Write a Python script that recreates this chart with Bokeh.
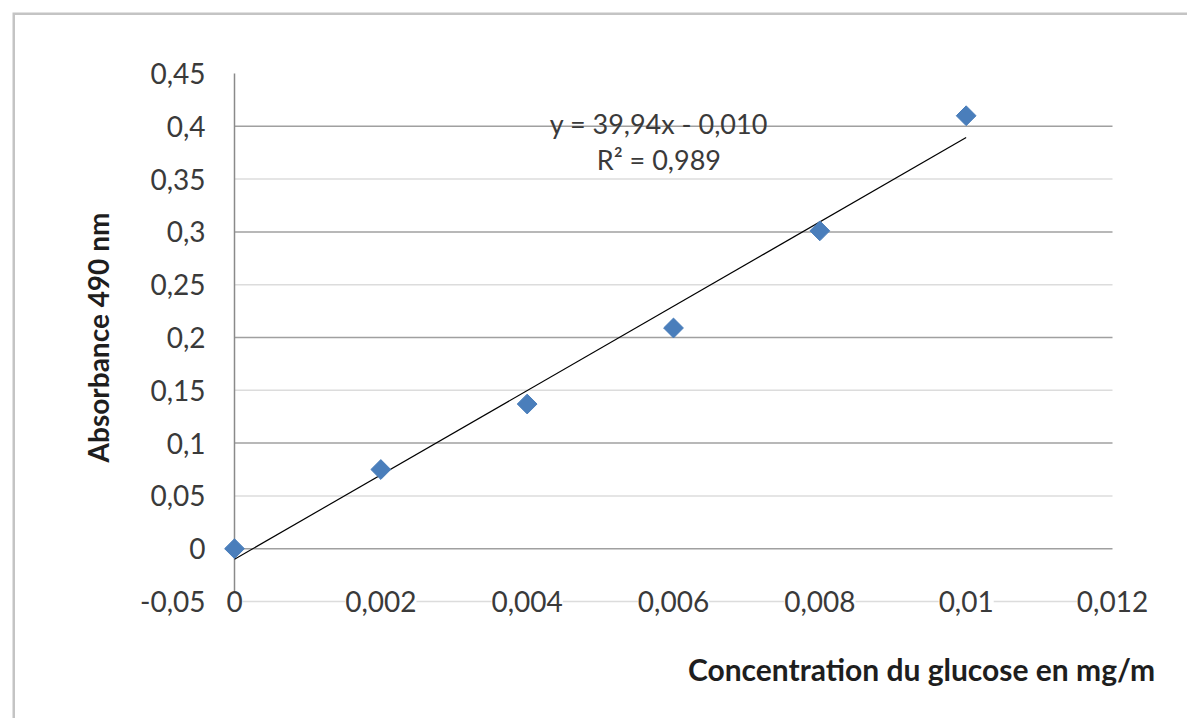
from bokeh.plotting import figure
from bokeh.models import Range1d
from bokeh.core.properties import value
from bokeh.embed import file_html
from bokeh.resources import INLINE
import math

# ---- data ----
conc = [0.0, 0.002, 0.004, 0.006, 0.008, 0.010]
absorb = [0.0, 0.075, 0.137, 0.209, 0.301, 0.410]
slope = 39.94
intercept = -0.010
r2 = 0.989

x_ticks = [0.0, 0.002, 0.004, 0.006, 0.008, 0.010, 0.012]
x_tick_labels = ["0", "0,002", "0,004", "0,006", "0,008", "0,01", "0,012"]
y_ticks = [-0.05, 0.0, 0.05, 0.1, 0.15, 0.2, 0.25, 0.3, 0.35, 0.4, 0.45]
y_tick_labels = ["-0,05", "0", "0,05", "0,1", "0,15", "0,2", "0,25", "0,3", "0,35", "0,4", "0,45"]

x_title = "Concentration du glucose  en mg/m"
y_title = "Absorbance 490 nm"

# ---- layout (pixels) ----
W, H = 1187, 718
BOX_L, BOX_T = 12, 12                                # outer chart border (left/top visible)
PA_L, PA_R, PA_T, PA_B = 234, 1112, 73, 601          # plot area

xs = (PA_R - PA_L) / (x_ticks[-1] - x_ticks[0])     # px per x unit
ys = (PA_B - PA_T) / (y_ticks[-1] - y_ticks[0])     # px per y unit
x_start = x_ticks[0] - (PA_L - BOX_L) / xs
x_end = x_ticks[-1] + (W - PA_R) / xs
y_start = y_ticks[0] - (H - PA_B) / ys
y_end = y_ticks[-1] + (PA_T - BOX_T) / ys

FONT = value("Lato")
TXT = "#3a3a3a"

p = figure(width=W, height=H, output_backend="svg", toolbar_location=None,
           x_range=Range1d(x_start, x_end), y_range=Range1d(y_start, y_end),
           x_axis_location=None, y_axis_location=None,
           min_border_left=BOX_L, min_border_right=0,
           min_border_top=BOX_T, min_border_bottom=0)
p.xgrid.grid_line_color = None
p.ygrid.grid_line_color = None
p.background_fill_color = "white"
p.border_fill_color = "white"
p.outline_line_color = None

# outer chart border (left and top edges; right/bottom fall outside the picture)
p.line([x_start, x_start, x_end], [y_start, y_end, y_end], line_color="#c4c4c4", line_width=5)

# horizontal gridlines (alternating shades as seen in the picture)
dark = y_ticks[1::2]
light = y_ticks[0:-1:2]
p.segment(x0=[x_ticks[0]] * len(light), x1=[x_ticks[-1]] * len(light), y0=light, y1=light,
          line_color="#dcdcdc", line_width=1.5)
p.segment(x0=[x_ticks[0]] * len(dark), x1=[x_ticks[-1]] * len(dark), y0=dark, y1=dark,
          line_color="#a0a0a0", line_width=1.5)

# vertical axis line at x = 0
p.segment(x0=[x_ticks[0]], x1=[x_ticks[0]], y0=[y_ticks[0]], y1=[y_ticks[-1]],
          line_color="#8a8a8a", line_width=1.5)

# y tick labels
p.text(x=[x_ticks[0]] * len(y_ticks), y=y_ticks, text=y_tick_labels, x_offset=-29,
       text_align="right", text_baseline="middle", text_font=FONT,
       text_font_size=value("28px"), text_color=TXT)

# x tick labels sitting on the bottom gridline
p.text(x=x_ticks, y=[y_ticks[0]] * len(x_ticks), text=x_tick_labels,
       text_align="center", text_baseline="middle", text_font=FONT,
       text_font_size=value("28px"), text_color=TXT,
       background_fill_color="white")

# trendline
tx = [conc[0], conc[-1]]
ty = [slope * v + intercept for v in tx]
p.line(tx, ty, line_color="black", line_width=1.2)

# points
p.scatter(conc, absorb, marker="square", size=14, angle=math.pi / 4,
          fill_color="#4A7EBB", line_color="#4A7EBB")

# equation
def fmt(v, d):
    return f"{v:.{d}f}".replace(".", ",")

eq_lines = [f"y = {fmt(slope, 2)}x - {fmt(abs(intercept), 3)}", f"R² = {fmt(r2, 3)}"]
p.text(x=[0.0058, 0.0058], y=[0.403, 0.369], text=eq_lines, text_align="center",
       text_baseline="middle", text_font=FONT, text_font_size=value("27px"), text_color=TXT)

# axis titles
p.text(x=[x_ticks[0]], y=[(y_ticks[0] + y_ticks[-1]) / 2], text=[y_title], x_offset=97 - PA_L,
       angle=math.pi / 2, text_align="center", text_baseline="middle", text_font=FONT,
       text_font_style=value("bold"), text_font_size=value("28px"), text_color="#1e1e1e")
p.text(x=[x_ticks[-1]], y=[y_ticks[0]], text=[x_title], x_offset=1162 - PA_R, y_offset=668 - PA_B,
       text_align="right", text_baseline="middle", text_font=FONT,
       text_font_style=value("bold"), text_font_size=value("30px"), text_color="#1e1e1e")

open("out.html", "w").write(file_html(p, INLINE))
